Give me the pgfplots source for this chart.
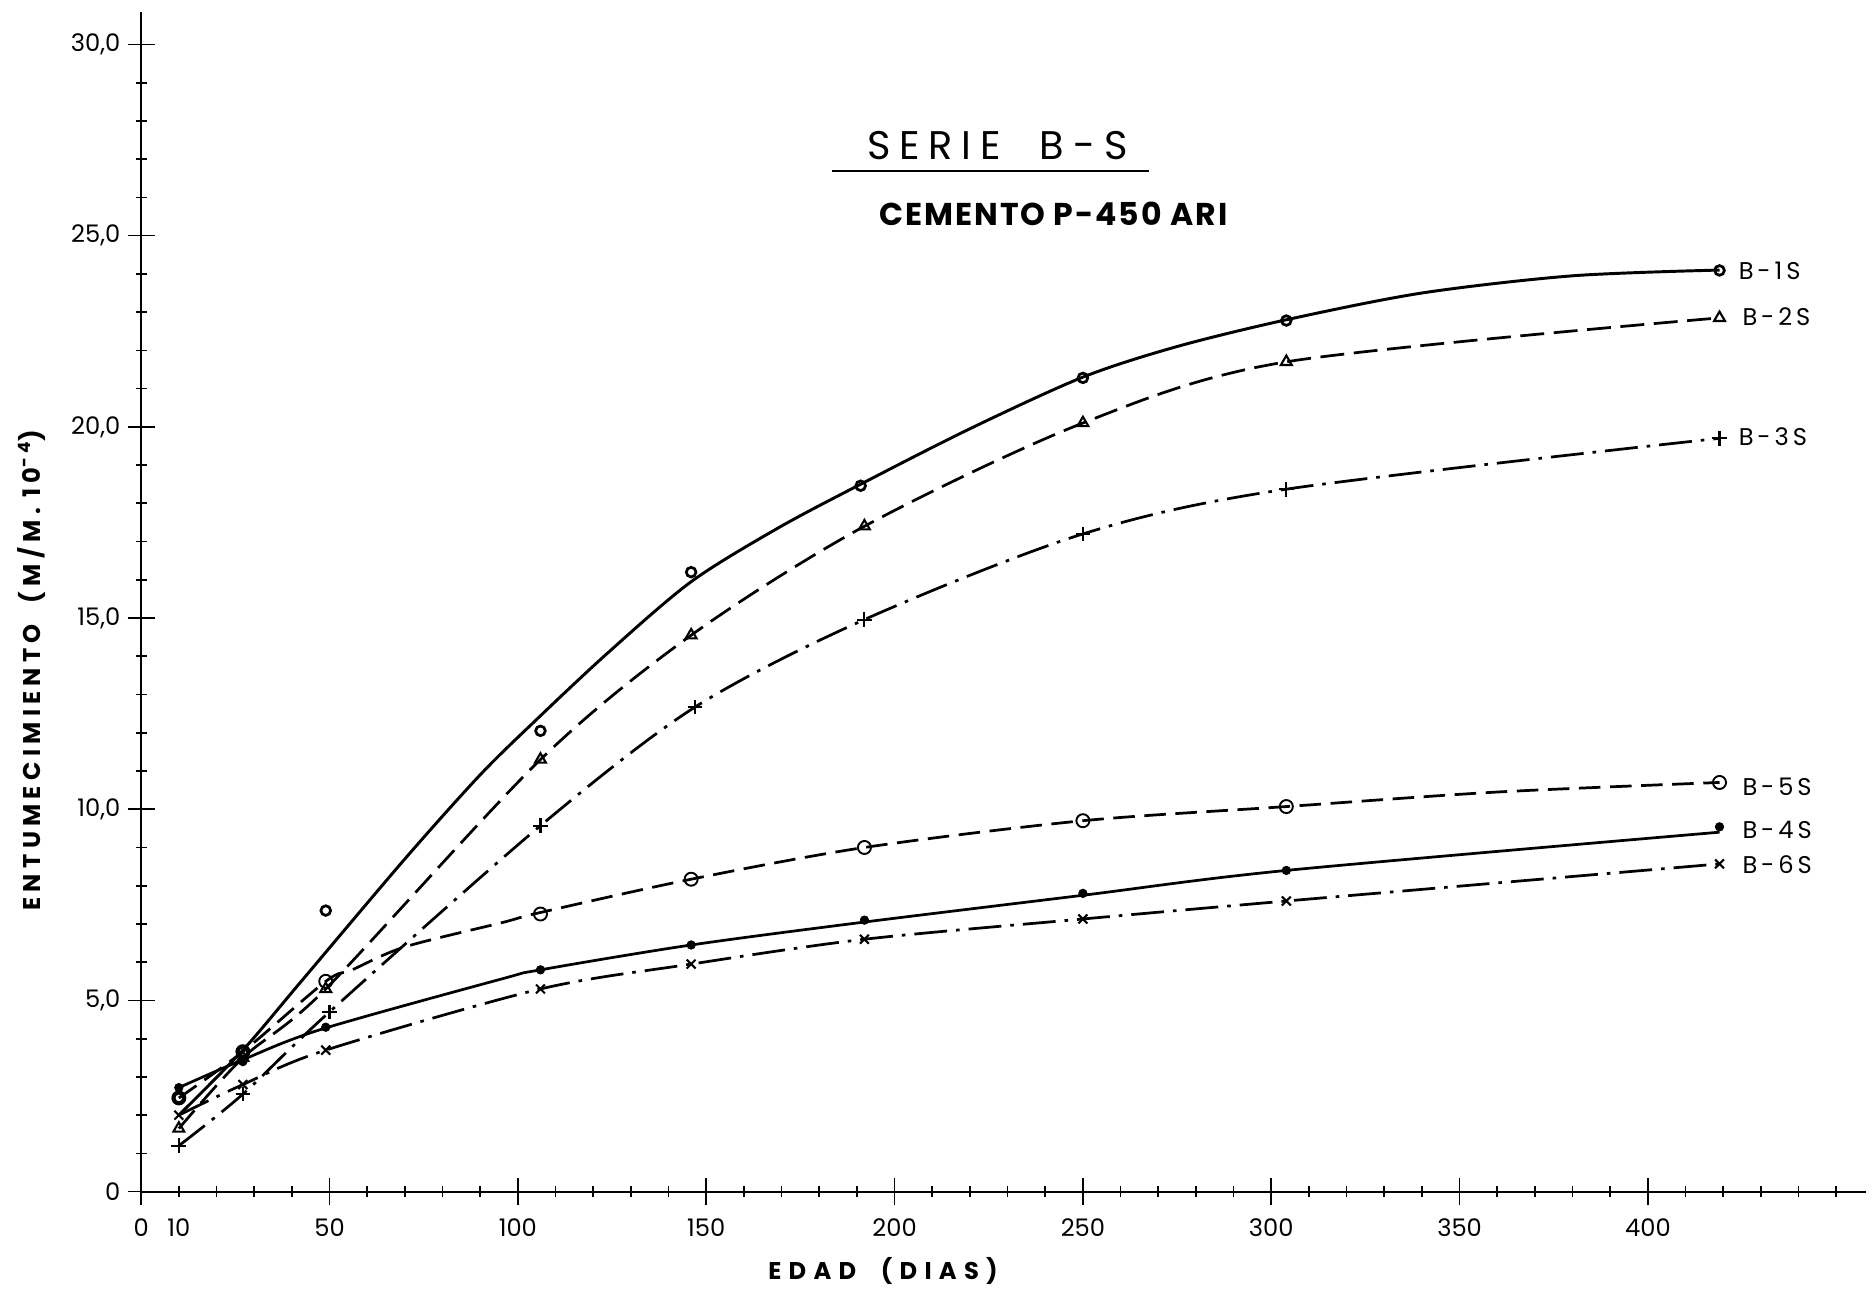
\documentclass[border=0pt]{standalone}
\usepackage{fontspec}
\setmainfont{Poppins}
\usepackage{pgfplots}
\pgfplotsset{compat=1.18}

\begin{document}
\begin{tikzpicture}[lbl/.style={anchor=west, inner sep=0pt,
  font=\fontsize{11.5}{12}\selectfont\addfontfeature{LetterSpace=16}}]
\begin{axis}[
  name=ax,
  scale only axis,
  width=28.84cm, height=19.72cm,
  xmin=0, xmax=458, ymin=0, ymax=30.85,
  axis lines=left,
  axis line style={-, line width=0.9pt},
  xtick={0,50,100,150,200,250,300,350,400},
  xticklabels={0,50,100,150,200,250,300,350,400},
  extra x ticks={10}, extra x tick labels={10},
  extra x tick style={major tick length=0.18cm, xticklabel style={yshift=-0.135cm}},
  minor xtick={10,20,...,450},
  ytick={0,5,10,15,20,25,30},
  yticklabels={0,{5,0},{10,0},{15,0},{20,0},{25,0},{30,0}},
  minor ytick={1,2,...,30},
  tick align=center,
  major tick length=0.45cm, minor tick length=0.18cm,
  tick style={line width=0.8pt, black},
  ticklabel style={font=\fontsize{11.5}{12}\selectfont},
  xticklabel style={yshift=-0.1cm},
  xlabel={EDAD\ \ (DIAS)},
  xlabel style={at={(axis description cs:0.43,-0.0669)}, anchor=center,
    font=\fontsize{11.5}{12}\selectfont\bfseries\addfontfeature{LetterSpace=30}},
  ylabel={ENTUMECIMIENTO\ \ (M/M. 10\textsuperscript{-4})},
  ylabel style={at={(axis description cs:-0.0638,0.442)}, anchor=center,
    font=\fontsize{11.5}{12}\selectfont\bfseries\addfontfeature{LetterSpace=22}},
  every axis plot/.append style={black},
]
% B-1S
\addplot[line width=1.4pt, smooth] coordinates {
(10,2.0) (27,3.7) (42.5,5.5) (70,8.7) (90,10.9) (105,12.35) (124,14.1) (146,15.95)
(169,17.35) (191,18.5) (220,19.95) (250,21.3) (275,22.1) (304,22.8) (340,23.5)
(380,23.95) (419,24.1)
};
\addplot[only marks, mark=o, mark size=2.3pt, mark options={line width=1.3pt}] coordinates {
(10,2.45) (27,3.66) (49,7.35) (106,12.05) (146,16.2) (191,18.46) (250,21.28) (304,22.78) (419,24.09)
};
% B-2S
\addplot[line width=1.3pt, smooth, dash pattern=on 0.4cm off 0.16cm,
  mark=triangle, mark size=3pt, mark options={solid, line width=1pt}] coordinates {
(10,1.65) (27,3.5) (49,5.3) (106,11.3) (146,14.55) (192,17.4) (250,20.1) (304,21.7) (419,22.85)
};
% B-3S
\addplot[line width=1.3pt, smooth, dash pattern=on 0.55cm off 0.15cm on 0.06cm off 0.15cm,
  mark=+, mark size=3.5pt, mark options={solid, line width=1pt}] coordinates {
(10,1.2) (27,2.55) (50,4.7) (106,9.57) (147,12.67) (192,14.96) (250,17.2) (304,18.37) (419,19.7)
};
% B-4S
\addplot[line width=1.3pt, smooth] coordinates {
(10,2.72) (27,3.45) (48,4.25) (96,5.57) (106,5.8) (146,6.45) (192,7.05) (250,7.75) (304,8.4) (419,9.4)
};
\addplot[only marks, mark=*, mark size=2pt] coordinates {
(10,2.72) (27,3.4) (49,4.3) (106,5.8) (146,6.45) (192,7.1) (250,7.8) (304,8.4) (419,9.54)
};
% B-5S
\addplot[line width=1.3pt, smooth, dash pattern=on 0.36cm off 0.16cm] coordinates {
(10,2.45) (27,3.66) (49,5.5) (56,5.8) (70,6.4) (96,7.04) (106,7.3) (146,8.17)
(192,9.0) (250,9.7) (304,10.07) (360,10.45) (419,10.7)
};
\addplot[only marks, mark=o, mark size=3.1pt, mark options={line width=0.9pt}] coordinates {
(10,2.45) (27,3.66) (49,5.5) (106,7.26) (146,8.17) (192,9.0) (250,9.7) (304,10.07) (419,10.7)
};
% B-6S
\addplot[line width=1.3pt, smooth, dash pattern=on 0.55cm off 0.15cm on 0.06cm off 0.15cm,
  mark=x, mark size=3pt, mark options={solid, line width=1pt}] coordinates {
(10,2.0) (27,2.8) (49,3.7) (106,5.3) (146,5.95) (192,6.6) (250,7.13) (304,7.6) (419,8.57)
};

% series labels
\node[lbl] at (axis cs:424,24.09) {B-1S};
\node[lbl] at (axis cs:425,22.87) {B-2S};
\node[lbl] at (axis cs:424,19.74) {B-3S};
\node[lbl] at (axis cs:425,10.58) {B-5S};
\node[lbl] at (axis cs:425,9.45) {B-4S};
\node[lbl] at (axis cs:425,8.54) {B-6S};

% title
\node[font=\fontsize{19}{20}\selectfont\addfontfeature{LetterSpace=22}] at (axis cs:227.3,27.35) {SERIE\ \ B-S};
\draw[line width=1.3pt] (axis cs:183.5,26.69) -- (axis cs:267.6,26.69);
\node[font=\fontsize{15}{16}\selectfont\bfseries\addfontfeature{LetterSpace=6}] at (axis cs:242.2,25.56) {CEMENTO\ P-450\ ARI};
\end{axis}
\path ([xshift=-2.36cm,yshift=-1.64cm]ax.south west) rectangle ([xshift=0.16cm,yshift=0.2cm]ax.north east);
\end{tikzpicture}
\end{document}
